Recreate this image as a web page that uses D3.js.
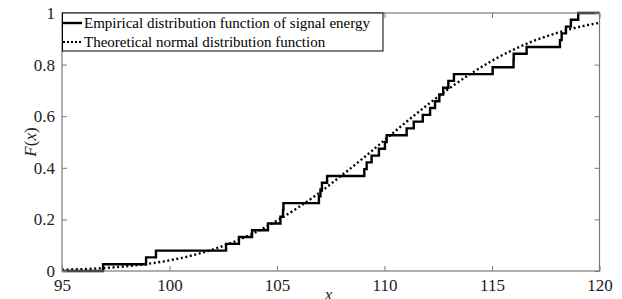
<!DOCTYPE html>
<html>
<head>
<meta charset="utf-8">
<script src="https://cdn.jsdelivr.net/npm/d3@7"></script>
<style>
  body { margin: 0; background: #fff; }
</style>
</head>
<body>
<div id="chart"></div>
<script>
// sorted sample values (x positions where the empirical CDF jumps by 1/38)
const sampleValues = [
  96.91, 98.91, 99.37, 102.63, 103.23, 103.84, 104.58, 105.16, 105.28, 105.30,
  106.95, 107.02, 107.09, 107.33, 109.06, 109.17, 109.40, 109.74, 110.02, 110.10,
  111.03, 111.36, 111.78, 112.12, 112.35, 112.55, 112.73, 112.97, 113.23, 115.03,
  116.00, 116.01, 116.61, 118.16, 118.24, 118.44, 118.67, 119.01
];

// theoretical normal CDF
const theoryX = [95, 96, 97, 98, 99, 100, 101, 102, 103, 104, 105, 106, 107,
  108, 109, 110, 111, 112, 113, 114, 115, 116, 117, 118, 119, 120];
const theoryF = [0.0045, 0.0074, 0.0118, 0.0184, 0.0279, 0.0412, 0.0593, 0.0829,
  0.113, 0.150, 0.195, 0.247, 0.305, 0.370, 0.437, 0.507, 0.577, 0.644, 0.707,
  0.764, 0.815, 0.858, 0.894, 0.922, 0.945, 0.962];

const xTicks = [95, 100, 105, 110, 115, 120];
const yTicks = [0, 0.2, 0.4, 0.6, 0.8, 1];
const legendLabels = [
  'Empirical distribution function of signal energy',
  'Theoretical normal distribution function'
];

const serif = '"Liberation Serif", "DejaVu Serif", serif';
const width = 622;
const height = 299;
const margin = { top: 13, right: 22.5, bottom: 28, left: 62 };
const innerWidth = width - margin.left - margin.right;
const innerHeight = height - margin.top - margin.bottom;
const axisColor = '#7a7a7a';

const svg = d3.select('#chart')
  .append('svg')
  .attr('width', width)
  .attr('height', height)
  .attr('font-family', serif);

const g = svg.append('g')
  .attr('transform', `translate(${margin.left},${margin.top})`);

const x = d3.scaleLinear().domain([95, 120]).range([0, innerWidth]);
const y = d3.scaleLinear().domain([0, 1]).range([innerHeight, 0]);

// step points for the empirical CDF
const n = sampleValues.length;
const ecdf = [{ x: 95, f: 0 }];
sampleValues.forEach((v, i) => ecdf.push({ x: v, f: (i + 1) / n }));
ecdf.push({ x: 120, f: 1 });

g.append('path')
  .datum(theoryX.map((v, i) => ({ x: v, f: theoryF[i] })))
  .attr('fill', 'none')
  .attr('stroke', '#000')
  .attr('stroke-width', 2.4)
  .attr('stroke-dasharray', '2,2.6')
  .attr('d', d3.line().x(d => x(d.x)).y(d => y(d.f)).curve(d3.curveMonotoneX));

g.append('path')
  .datum(ecdf)
  .attr('fill', 'none')
  .attr('stroke', '#000')
  .attr('stroke-width', 2.4)
  .attr('d', d3.line().x(d => x(d.x)).y(d => y(d.f)).curve(d3.curveStepAfter));

// axes (ticks point inward, box on)
const styleAxis = sel => {
  sel.attr('font-family', serif).attr('font-size', 17);
  sel.select('.domain').remove();
  sel.selectAll('.tick line').attr('stroke', axisColor);
  sel.selectAll('.tick text').attr('fill', '#222');
};

g.append('g')
  .attr('transform', `translate(0,${innerHeight})`)
  .call(d3.axisBottom(x).tickValues(xTicks).tickSizeInner(-5).tickSizeOuter(0).tickPadding(8))
  .call(styleAxis);

g.append('g')
  .call(d3.axisTop(x).tickValues(xTicks).tickSizeInner(-5).tickSizeOuter(0).tickFormat(''))
  .call(styleAxis);

g.append('g')
  .call(d3.axisLeft(y).tickValues(yTicks).tickSizeInner(-5).tickSizeOuter(0).tickPadding(7)
    .tickFormat(d3.format('~g')))
  .call(styleAxis);

g.append('g')
  .attr('transform', `translate(${innerWidth},0)`)
  .call(d3.axisRight(y).tickValues(yTicks).tickSizeInner(-5).tickSizeOuter(0).tickFormat(''))
  .call(styleAxis);

g.append('rect')
  .attr('width', innerWidth)
  .attr('height', innerHeight)
  .attr('fill', 'none')
  .attr('stroke', axisColor)
  .attr('stroke-width', 1.2);

// axis labels
svg.append('text')
  .attr('x', margin.left + x(107.4))
  .attr('y', 300)
  .attr('text-anchor', 'middle')
  .attr('font-size', 17)
  .attr('font-style', 'italic')
  .attr('fill', '#222')
  .text('x');

const yLabel = svg.append('text')
  .attr('transform', `translate(36,${margin.top + y(0.5)}) rotate(-90)`)
  .attr('text-anchor', 'middle')
  .attr('font-size', 17)
  .attr('fill', '#222');
yLabel.append('tspan').attr('font-style', 'italic').text('F');
yLabel.append('tspan').text('(');
yLabel.append('tspan').attr('font-style', 'italic').text('x');
yLabel.append('tspan').text(')');

// legend
const legend = g.append('g');
legend.append('rect')
  .attr('x', 0.5)
  .attr('y', 0)
  .attr('width', 320.5)
  .attr('height', 38)
  .attr('fill', '#fff')
  .attr('stroke', '#000')
  .attr('stroke-width', 1);

legendLabels.forEach((label, i) => {
  const cy = 10 + i * 19;
  legend.append('line')
    .attr('x1', 1).attr('x2', 20)
    .attr('y1', cy).attr('y2', cy)
    .attr('stroke', '#000')
    .attr('stroke-width', i === 0 ? 2.4 : 2)
    .attr('stroke-dasharray', i === 0 ? null : '2,2');
  legend.append('text')
    .attr('x', 22)
    .attr('y', cy + 5)
    .attr('font-size', 15)
    .attr('fill', '#000')
    .text(label);
});
</script>
</body>
</html>
